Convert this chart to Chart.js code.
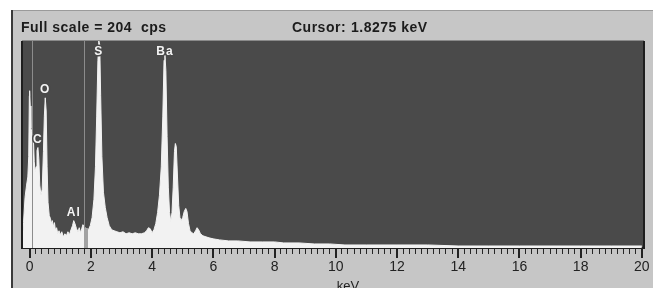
<!DOCTYPE html>
<html><head><meta charset="utf-8">
<style>html,body{margin:0;padding:0;background:#fff;overflow:hidden}#wrap{width:659px;height:288px}</style>
<script src="https://cdn.jsdelivr.net/npm/chart.js@4/dist/chart.umd.min.js"></script>
</head><body><div id="wrap"><canvas id="c" width="659" height="288"></canvas></div>
<script>
// ---- data (keV, counts per second) ----
const energies = [-0.25,-0.2,-0.15,-0.1,-0.06,-0.03,-0.01,0.0,0.02,0.04,0.08,0.12,0.15,0.18,0.21,0.24,0.27,0.3,0.33,0.37,0.41,0.45,0.48,0.51,0.54,0.57,0.6,0.64,0.68,0.71,0.74,0.78,0.81,0.84,0.88,0.92,0.96,1.0,1.05,1.1,1.15,1.2,1.25,1.3,1.35,1.4,1.44,1.48,1.53,1.58,1.62,1.66,1.7,1.74,1.8,1.86,1.92,1.98,2.04,2.1,2.15,2.19,2.23,2.26,2.29,2.32,2.36,2.41,2.47,2.53,2.6,2.68,2.76,2.85,2.95,3.05,3.15,3.25,3.35,3.45,3.55,3.65,3.75,3.82,3.88,3.94,4.0,4.06,4.12,4.18,4.24,4.3,4.35,4.39,4.42,4.45,4.49,4.53,4.57,4.61,4.65,4.69,4.73,4.76,4.79,4.83,4.87,4.91,4.95,5.0,5.05,5.1,5.14,5.19,5.24,5.3,5.36,5.42,5.47,5.52,5.58,5.66,5.76,5.86,6.0,6.2,6.5,6.8,7.2,7.6,8.0,8.3,8.8,9.3,9.8,10.3,11.0,12.0,13.0,14.0,15.0,16.0,17.0,18.0,19.0,20.0,20.1];
const counts   = [0,25,50,62,70,90,150,155,140,118,114,110,85,75,80,96,99,88,62,52,58,95,130,148,135,80,45,32,29,24,27,21,25,18,20,14,17,13,16,11,14,12,16,13,18,22,27,24,19,16,20,15,19,23,20,19,18,22,30,48,80,130,185,204,200,150,90,55,40,30,22,18,17,16,15,16,14,15,14,15,14,14,15,17,20,19,15,18,24,35,52,80,130,185,190,175,110,60,35,26,35,60,95,103,100,70,42,30,27,30,36,39,36,24,17,15,14,17,20,18,14,12,11,10,9,8,7,7,6,6,6,5,5,4,4,3,3,3,3,2,2,2,2,2,2,2];
const majorTicks = [0,2,4,6,8,10,12,14,16,18,20];
const peakNames    = ['C','O','Al','S','Ba'];
const peakEnergies = [0.27,0.51,1.44,2.26,4.42];
const fullScale = 204;
const cursorKeV = 1.8275;
const markerKeV = 0.08;
const axisTitle = 'keV';

function countAt(e){
  for(let i=1;i<energies.length;i++){
    if(energies[i]>=e){const t=(e-energies[i-1])/(energies[i]-energies[i-1]);return counts[i-1]+t*(counts[i]-counts[i-1]);}
  }
  return counts[counts.length-1];
}
function peakCount(e){let best=0;for(let i=0;i<energies.length;i++){if(Math.abs(energies[i]-e)<0.05)best=Math.max(best,counts[i]);}return best;}

const minorTicks=[];for(let i=0;i<=100;i++)minorTicks.push(Math.round(i*2)/10);
const isMajor=v=>majorTicks.some(m=>Math.abs(m-v)<1e-6);

const bgPlugin={id:'bg',
  beforeDraw(chart){
    const ctx=chart.ctx,a=chart.chartArea;
    ctx.save();
    ctx.fillStyle='#ffffff';ctx.fillRect(0,0,659,288);
    ctx.fillStyle='#c6c6c6';ctx.fillRect(11,10,642,278);
    ctx.fillStyle='#9a9a9a';ctx.fillRect(11,10,642,1);
    ctx.fillStyle='#3a3a3a';ctx.fillRect(11,10,2,278);
    ctx.fillStyle='#4a4a4a';ctx.fillRect(a.left,a.top,a.right-a.left,a.bottom-a.top);
    ctx.fillStyle='#1c1c1c';ctx.font='bold 14px "Liberation Sans", Arial, sans-serif';
    ctx.letterSpacing='0.5px';
    ctx.textBaseline='alphabetic';ctx.textAlign='left';
    ctx.fillText('Full scale = '+fullScale+'  cps',21,32);
    ctx.fillText('Cursor:',292,32);
    ctx.fillText(cursorKeV.toFixed(4)+' keV',351,32);
    ctx.restore();
  },
  afterDatasetsDraw(chart){
    const ctx=chart.ctx,a=chart.chartArea,xs=chart.scales.x,ys=chart.scales.y;
    ctx.save();
    const mx=Math.round(xs.getPixelForValue(markerKeV))+0.5;
    ctx.strokeStyle='#8c8c8c';ctx.lineWidth=1;
    ctx.beginPath();ctx.moveTo(mx,a.top);ctx.lineTo(mx,a.bottom);ctx.stroke();
    const cx=Math.round(xs.getPixelForValue(cursorKeV));
    ctx.beginPath();ctx.moveTo(cx-1.5,a.top);ctx.lineTo(cx-1.5,a.bottom);ctx.stroke();
    const cy=ys.getPixelForValue(countAt(cursorKeV));
    ctx.fillStyle='#a2a2a2';ctx.fillRect(cx-2,cy,4,a.bottom-cy);
    ctx.fillStyle='#1e1e1e';
    ctx.fillRect(a.left-1,a.top,2,a.bottom-a.top+1);
    ctx.fillRect(a.right-1,a.top,2,a.bottom-a.top+1);
    ctx.fillStyle='#8a8a8a';ctx.fillRect(a.left,a.top-1,a.right-a.left,1);
    ctx.font='bold 12px "Liberation Sans", Arial, sans-serif';
    ctx.textAlign='center';ctx.textBaseline='middle';
    ctx.letterSpacing='1px';
    peakNames.forEach((n,i)=>{
      const x=xs.getPixelForValue(peakEnergies[i]);
      let y=ys.getPixelForValue(peakCount(peakEnergies[i]))-8;
      if(y<a.top+11)y=a.top+11;
      ctx.strokeStyle='#4a4a4a';ctx.lineWidth=3;ctx.lineJoin='round';
      ctx.strokeText(n,x,y);
      ctx.fillStyle='#f4f4f4';ctx.fillText(n,x,y);
    });
    ctx.restore();
  },
  afterDraw(chart){
    const ctx=chart.ctx,a=chart.chartArea,xs=chart.scales.x;
    ctx.save();
    ctx.fillStyle='#222';
    majorTicks.forEach(v=>{const x=Math.round(xs.getPixelForValue(v));ctx.fillRect(x-1,a.bottom,2,10);});
    ctx.font='13px "Liberation Sans", Arial, sans-serif';
    ctx.fillStyle='#222';ctx.textAlign='center';ctx.textBaseline='alphabetic';
    ctx.fillText(axisTitle,xs.getPixelForValue(10.4),290);
    ctx.restore();
  }
};

new Chart(document.getElementById('c'),{
  type:'line',
  data:{datasets:[{
    data:energies.map((e,i)=>({x:e,y:counts[i]})),
    borderColor:'#f2f2f2',borderWidth:1,backgroundColor:'#f2f2f2',
    fill:'origin',pointRadius:0,tension:0
  }]},
  plugins:[bgPlugin],
  options:{
    responsive:false,animation:false,devicePixelRatio:1,
    layout:{padding:{left:22,right:15,top:41,bottom:0}},
    plugins:{legend:{display:false},tooltip:{enabled:false}},
    scales:{
      x:{type:'linear',min:-0.25,max:20.07,position:'bottom',
        afterFit(s){s.height=40;},
        afterBuildTicks(s){s.ticks=minorTicks.map(v=>({value:v}));},
        ticks:{autoSkip:false,maxRotation:0,minRotation:0,padding:5,color:'#222',
          font:{family:'"Liberation Sans", Arial, sans-serif',size:14},
          callback:v=>isMajor(v)?String(Math.round(v)):''},
        grid:{drawOnChartArea:false,tickLength:6,tickColor:'#262626',tickWidth:1},
        border:{display:true,color:'#1e1e1e',width:2}
      },
      y:{display:false,min:0,max:fullScale}
    }
  }
});
</script></body></html>
